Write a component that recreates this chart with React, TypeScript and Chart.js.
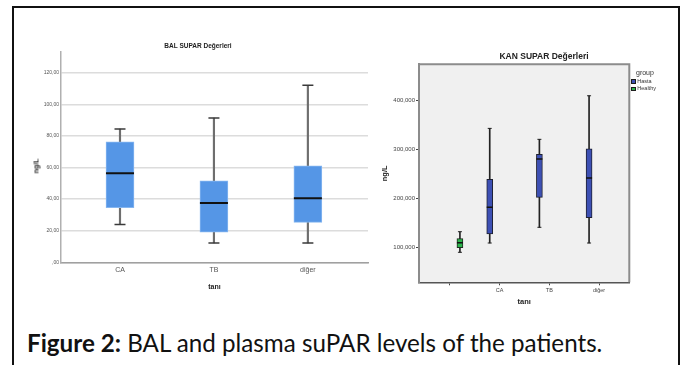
import React, { useEffect, useRef } from 'react';
import { Chart, registerables } from 'chart.js';

Chart.register(...registerables);

// ---------- BAL SUPAR (left) ----------
const balCategories = ['CA', 'TB', 'diğer'];
const balMin = [24.0, 12.2, 12.2];
const balQ1 = [34.6, 19.0, 25.3];
const balMedian = [56.3, 37.5, 40.5];
const balQ3 = [76.3, 51.5, 61.0];
const balMax = [84.4, 91.3, 112.0];
const balTicks = [0, 20, 40, 60, 80, 100, 120];

// ---------- KAN SUPAR (right) ----------
const kanCategories = ['', 'CA', 'TB', 'diğer'];
const kanGroups = ['Hasta', 'Healthy'];
const hastaMin = [null, 108800, 140900, 108800];
const hastaQ1 = [null, 127200, 202200, 160500];
const hastaMedian = [null, 181800, 280600, 241700];
const hastaQ3 = [null, 239000, 290200, 301700];
const hastaMax = [null, 343300, 320900, 410000];
const healthyMin = [89800, null, null, null];
const healthyQ1 = [99200, null, null, null];
const healthyMedian = [109400, null, null, null];
const healthyQ3 = [117600, null, null, null];
const healthyMax = [131900, null, null, null];
const kanTicks = [100000, 200000, 300000, 400000];

const FONT = '"Liberation Sans", Arial, sans-serif';

type BoxStyle = {
  fill: string;
  border: string;
  borderWidth: number;
  whisker: string;
  whiskerWidth: number;
  cap: string;
  capHalf: number;
  capWidth: number;
  median: string;
  medianWidth: number;
  boxWidth: number;
};

function boxDatasets(
  xs: number[],
  mins: (number | null)[],
  q1s: (number | null)[],
  meds: (number | null)[],
  q3s: (number | null)[],
  maxs: (number | null)[],
  s: BoxStyle
): any[] {
  const idx = xs.map((_, i) => i).filter((i) => q1s[i] != null);
  return [
    {
      type: 'bar',
      data: idx.map((i) => ({ x: xs[i], y: [mins[i], q1s[i]] })),
      backgroundColor: s.whisker,
      borderWidth: 0,
      barThickness: s.whiskerWidth,
      grouped: false,
      order: 4,
    },
    {
      type: 'bar',
      data: idx.map((i) => ({ x: xs[i], y: [q3s[i], maxs[i]] })),
      backgroundColor: s.whisker,
      borderWidth: 0,
      barThickness: s.whiskerWidth,
      grouped: false,
      order: 4,
    },
    {
      type: 'bar',
      data: idx.map((i) => ({ x: xs[i], y: [q1s[i], q3s[i]] })),
      backgroundColor: s.fill,
      borderColor: s.border,
      borderWidth: s.borderWidth,
      borderSkipped: false,
      barThickness: s.boxWidth,
      grouped: false,
      order: 2,
    },
    {
      type: 'scatter',
      data: idx.flatMap((i) => [
        { x: xs[i], y: mins[i] },
        { x: xs[i], y: maxs[i] },
      ]),
      pointStyle: 'line',
      pointRadius: s.capHalf,
      pointHoverRadius: s.capHalf,
      borderColor: s.cap,
      pointBorderColor: s.cap,
      borderWidth: s.capWidth,
      pointBorderWidth: s.capWidth,
      order: 1,
    },
    {
      type: 'scatter',
      data: idx.map((i) => ({ x: xs[i], y: meds[i] })),
      pointStyle: 'line',
      pointRadius: s.boxWidth / 2,
      pointHoverRadius: s.boxWidth / 2,
      borderColor: s.median,
      pointBorderColor: s.median,
      borderWidth: s.medianWidth,
      pointBorderWidth: s.medianWidth,
      order: 0,
    },
  ];
}

const plotFrame = {
  id: 'plotFrame',
  beforeDraw(chart: any, _args: any, opts: any) {
    if (!opts || !opts.fill) return;
    const { ctx, chartArea: a } = chart;
    ctx.save();
    ctx.fillStyle = opts.fill;
    ctx.fillRect(a.left, a.top, a.right - a.left, a.bottom - a.top);
    ctx.restore();
  },
  afterDraw(chart: any, _args: any, opts: any) {
    if (!opts || !opts.stroke) return;
    const { ctx, chartArea: a } = chart;
    ctx.save();
    ctx.strokeStyle = opts.stroke;
    ctx.lineWidth = opts.width;
    ctx.beginPath();
    ctx.moveTo(a.left, a.top);
    ctx.lineTo(a.right, a.top);
    ctx.lineTo(a.right, a.bottom);
    ctx.stroke();
    ctx.restore();
  },
};

function fixedTicks(values: number[]) {
  return (scale: any) => {
    scale.ticks = values.map((v) => ({ value: v }));
  };
}

const abs = (extra: React.CSSProperties): React.CSSProperties => ({
  position: 'absolute',
  whiteSpace: 'nowrap',
  lineHeight: 1,
  ...extra,
});

export default function App() {
  const leftRef = useRef<HTMLCanvasElement>(null);
  const rightRef = useRef<HTMLCanvasElement>(null);

  useEffect(() => {
    document.body.style.margin = '0';
    const leftXs = balCategories.map((_, i) => i + 1);
    const left = new Chart(leftRef.current as HTMLCanvasElement, {
      type: 'bar',
      data: {
        datasets: boxDatasets(leftXs, balMin, balQ1, balMedian, balQ3, balMax, {
          fill: '#5596e6',
          border: '#86b6f0',
          borderWidth: 1,
          whisker: '#6e6e6e',
          whiskerWidth: 1.5,
          cap: '#3a3a3a',
          capHalf: 5.5,
          capWidth: 1.5,
          median: '#111111',
          medianWidth: 2,
          boxWidth: 28,
        }),
      },
      options: {
        animation: false,
        responsive: false,
        devicePixelRatio: 1,
        events: [],
        layout: { padding: { top: 51.7, right: 28, left: 0, bottom: 0 } },
        plugins: { legend: { display: false }, tooltip: { enabled: false } },
        scales: {
          x: {
            type: 'linear',
            min: 0.372,
            max: 3.64,
            offset: false,
            afterBuildTicks: fixedTicks(leftXs),
            afterFit: (s: any) => {
              s.height = 37.7;
            },
            grid: { display: false, drawTicks: false, offset: false },
            border: { display: true, color: '#a0a0a0', width: 1.5 },
            ticks: {
              padding: 4,
              color: '#555',
              font: { family: FONT, size: 7 },
              callback: (v: any) => balCategories[Number(v) - 1] ?? '',
            },
            title: {
              display: true,
              text: 'tanı',
              color: '#222',
              font: { family: FONT, size: 7, weight: 'bold' },
              padding: { top: 0, bottom: 9.1 },
            },
          },
          y: {
            type: 'linear',
            min: 0,
            max: 133.3,
            afterBuildTicks: fixedTicks(balTicks),
            afterFit: (s: any) => {
              s.width = 61;
            },
            grid: { color: '#dcdcdc', lineWidth: 1.5, drawTicks: false },
            border: { display: true, color: '#b0b0b0', width: 1.5 },
            ticks: {
              padding: 2,
              color: '#555',
              font: { family: FONT, size: 5 },
              callback: (v: any) =>
                Number(v) === 0 ? ',00' : Number(v).toFixed(2).replace('.', ','),
            },
          },
        },
      } as any,
    });

    const rightXs = kanCategories.map((_, i) => i);
    const hastaXs = rightXs.map((x) => x - 0.2);
    const healthyXs = rightXs.map((x) => x + 0.2);
    const right = new Chart(rightRef.current as HTMLCanvasElement, {
      type: 'bar',
      data: {
        datasets: [
          ...boxDatasets(hastaXs, hastaMin, hastaQ1, hastaMedian, hastaQ3, hastaMax, {
            fill: '#3d50b4',
            border: '#1e2030',
            borderWidth: 1,
            whisker: '#222222',
            whiskerWidth: 1,
            cap: '#222222',
            capHalf: 2,
            capWidth: 1,
            median: '#111111',
            medianWidth: 1.5,
            boxWidth: 6,
          }),
          ...boxDatasets(healthyXs, healthyMin, healthyQ1, healthyMedian, healthyQ3, healthyMax, {
            fill: '#2bb34b',
            border: '#1e2a1e',
            borderWidth: 1,
            whisker: '#222222',
            whiskerWidth: 1,
            cap: '#222222',
            capHalf: 2,
            capWidth: 1,
            median: '#111111',
            medianWidth: 1.5,
            boxWidth: 6,
          }),
        ],
      },
      plugins: [plotFrame],
      options: {
        animation: false,
        responsive: false,
        devicePixelRatio: 1,
        events: [],
        layout: { padding: { top: 64.3, right: 53.7, left: 0, bottom: 0 } },
        plugins: {
          legend: { display: false },
          tooltip: { enabled: false },
          plotFrame: { fill: '#f0f0f0', stroke: '#8c8c8c', width: 2 },
        },
        scales: {
          x: {
            type: 'linear',
            min: -0.624,
            max: 3.61,
            offset: false,
            afterBuildTicks: fixedTicks(rightXs),
            afterFit: (s: any) => {
              s.height = 27.7;
            },
            grid: {
              display: true,
              offset: false,
              drawOnChartArea: false,
              drawTicks: true,
              tickLength: 3,
              color: '#444',
              lineWidth: 1,
            },
            border: { display: true, color: '#555', width: 1.5 },
            ticks: {
              padding: 2,
              color: '#444',
              font: { family: FONT, size: 5.5 },
              callback: (v: any) => kanCategories[Number(v)] ?? '',
            },
            title: {
              display: true,
              text: 'tanı',
              color: '#222',
              font: { family: FONT, size: 7.5, weight: 'bold' },
              padding: { top: 0, bottom: 3.2 },
            },
          },
          y: {
            type: 'linear',
            min: 28400,
            max: 474400,
            afterBuildTicks: fixedTicks(kanTicks),
            afterFit: (s: any) => {
              s.width = 59;
            },
            grid: {
              display: true,
              drawOnChartArea: false,
              drawTicks: true,
              tickLength: 3,
              color: '#444',
              lineWidth: 1,
            },
            border: { display: true, color: '#8c8c8c', width: 2 },
            ticks: {
              padding: 1,
              color: '#444',
              font: { family: FONT, size: 6 },
              callback: (v: any) => Number(v).toLocaleString('en-US'),
            },
            title: {
              display: true,
              text: 'ng/L',
              color: '#222',
              font: { family: FONT, size: 7.5, weight: 'bold' },
              padding: { top: 20.5, bottom: 0 },
            },
          },
        },
      } as any,
    });

    return () => {
      left.destroy();
      right.destroy();
    };
  }, []);

  return (
    <div
      style={{
        position: 'fixed',
        left: 0,
        top: 0,
        width: 683,
        height: 365,
        overflow: 'hidden',
        background: '#ffffff',
      }}
    >
      <div
        style={{
          position: 'absolute',
          left: 12,
          top: 6,
          width: 668,
          height: 370,
          boxSizing: 'border-box',
          borderTop: '2px solid #111',
          borderLeft: '2px solid #111',
          borderRight: '2px solid #111',
        }}
      />
      <canvas
        ref={leftRef}
        width={396}
        height={300}
        style={{ position: 'absolute', left: 0, top: 0 }}
      />
      <canvas
        ref={rightRef}
        width={323}
        height={310}
        style={{ position: 'absolute', left: 360, top: 0 }}
      />
      <div
        style={abs({
          left: 198,
          top: 45.7,
          transform: 'translate(-50%, -50%)',
          fontFamily: FONT,
          fontWeight: 'bold',
          fontSize: 6.5,
          color: '#222',
        })}
      >
        BAL SUPAR Değerleri
      </div>
      <div
        style={abs({
          left: 36,
          top: 166,
          transform: 'translate(-50%, -50%) rotate(-90deg)',
          fontFamily: FONT,
          fontWeight: 'bold',
          fontSize: 7,
          color: '#222',
        })}
      >
        ng/L
      </div>
      <div
        style={abs({
          left: 544,
          top: 55.7,
          transform: 'translate(-50%, -50%)',
          fontFamily: FONT,
          fontWeight: 'bold',
          fontSize: 8.5,
          color: '#222',
        })}
      >
        KAN SUPAR Değerleri
      </div>
      <div
        style={abs({
          left: 636,
          top: 72.3,
          transform: 'translateY(-50%)',
          fontFamily: FONT,
          fontSize: 7,
          color: '#333',
        })}
      >
        group
      </div>
      {kanGroups.map((g, i) => (
        <div key={g}>
          <div
            style={abs({
              left: 630.7,
              top: 79.3 + i * 7.4,
              width: 5.6,
              height: 4.4,
              boxSizing: 'border-box',
              background: i === 0 ? '#3d50b4' : '#2bb34b',
              border: '1px solid #1e1e1e',
            })}
          />
          <div
            style={abs({
              left: 637.3,
              top: 81.5 + i * 7.4,
              transform: 'translateY(-50%)',
              fontFamily: FONT,
              fontSize: 5.5,
              color: '#333',
            })}
          >
            {g}
          </div>
        </div>
      ))}
      <div
        style={abs({
          left: 27,
          top: 329,
          fontFamily: 'Lato, "Open Sans", sans-serif',
          fontSize: 24.2,
          color: '#111',
          lineHeight: '28px',
        })}
      >
        <span style={{ fontWeight: 'bold' }}>Figure 2:</span> BAL and plasma suPAR levels of the
        patients.
      </div>
    </div>
  );
}
